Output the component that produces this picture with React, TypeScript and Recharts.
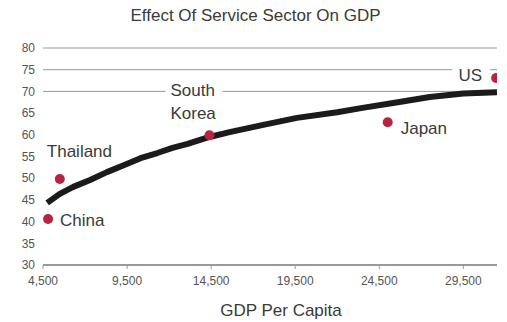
import {
  ComposedChart,
  Line,
  Scatter,
  XAxis,
  YAxis,
  ReferenceLine,
} from "recharts";

const countries = ["China", "Thailand", "South Korea", "Japan", "US"];
const countryGdp = [4800, 5500, 14400, 25000, 31450];
const countryShare = [40.6, 49.8, 59.9, 62.9, 73.1];

const trendGdp = [
  4750, 5500, 6300, 7300, 8300, 9300, 10300, 11300, 12200, 13100, 14400,
  15600, 17600, 19600, 22000, 23500, 25600, 27500, 29500, 31500,
];
const trendShare = [
  44.3, 46.4, 48.0, 49.6, 51.4, 53.0, 54.6, 55.8, 57.0, 57.9, 59.5, 60.6,
  62.3, 63.9, 65.2, 66.2, 67.5, 68.7, 69.5, 69.8,
];

const xTicks = [4500, 9500, 14500, 19500, 24500, 29500];
const yTicks = [30, 35, 40, 45, 50, 55, 60, 65, 70, 75, 80];
const gridValues = [70, 75, 80];

const pointData = countries.map((name, i) => ({
  name,
  gdp: countryGdp[i],
  share: countryShare[i],
}));
const trendData = trendGdp.map((gdp, i) => ({ gdp, trend: trendShare[i] }));

const FONT = "'Liberation Sans', Arial, sans-serif";
const TEXT = "#3a3a3a";
const DOT = "#b8233f";

// label offsets from the dot, in px
const labelPlacement: Record<
  string,
  { dx: number; dy: number; anchor: "start" | "end"; wrap?: boolean; bg?: [number, number] }
> = {
  China: { dx: 12, dy: 1, anchor: "start" },
  Thailand: { dx: -13, dy: -28, anchor: "start" },
  "South Korea": { dx: -39, dy: -45, anchor: "start", wrap: true, bg: [-44, 13] },
  Japan: { dx: 13, dy: 6, anchor: "start" },
  US: { dx: -14, dy: -3, anchor: "end", bg: [-44, -6] },
};

const CountryDot = (props: any) => {
  const { cx, cy, payload } = props;
  const p = labelPlacement[payload.name];
  const lines = p.wrap ? payload.name.split(" ") : [payload.name];
  return (
    <g>
      <circle cx={cx} cy={cy} r={5} fill={DOT} />
      {p.bg && (
        <rect
          x={cx + p.bg[0]}
          y={cy + p.dy - 8}
          width={p.bg[1] - p.bg[0]}
          height={16}
          fill="#fff"
        />
      )}
      {lines.map((t: string, i: number) => (
        <text
          key={t}
          x={cx + p.dx}
          y={cy + p.dy + i * 23 + 6}
          textAnchor={p.anchor}
          fontSize={17}
          fontFamily={FONT}
          fill={TEXT}
        >
          {t}
        </text>
      ))}
    </g>
  );
};

export default function App() {
  return (
    <div style={{ position: "absolute", left: 0, top: 0, width: 507, height: 322, background: "#fff" }}>
      <div
        style={{
          position: "absolute",
          top: 6,
          left: 2,
          width: 507,
          textAlign: "center",
          fontFamily: FONT,
          fontSize: 17,
          color: TEXT,
        }}
      >
        Effect Of Service Sector On GDP
      </div>
      <ComposedChart
        width={507}
        height={322}
        margin={{ top: 48, right: 10, bottom: 0, left: 0 }}
      >
        <XAxis
          dataKey="gdp"
          type="number"
          domain={[4500, 31500]}
          ticks={xTicks}
          allowDataOverflow
          tickFormatter={(v: number) => v.toLocaleString("en-US")}
          height={57}
          stroke="#999"
          axisLine={{ stroke: "#999", strokeWidth: 2 }}
          tickLine={{ stroke: "#999" }}
          tickSize={4}
          tickMargin={7}
          tick={{ fontSize: 12, fill: "#555", fontFamily: FONT }}
          label={{
            value: "GDP Per Capita",
            position: "insideBottom",
            offset: 6,
            dx: 11,
            fontSize: 17,
            fill: TEXT,
            fontFamily: FONT,
          }}
        />
        <YAxis
          type="number"
          domain={[30, 80]}
          ticks={yTicks}
          width={43}
          axisLine={false}
          tickLine={false}
          tickSize={0}
          tickMargin={8}
          tick={{ fontSize: 12, fill: "#555", fontFamily: FONT }}
        />
        {gridValues.map((v) => (
          <ReferenceLine key={v} y={v} stroke="#999" strokeWidth={1} />
        ))}
        <Scatter
          data={pointData}
          dataKey="share"
          shape={CountryDot}
          isAnimationActive={false}
        />
        <Line
          data={trendData}
          dataKey="trend"
          type="linear"
          stroke="#1b1b1b"
          strokeWidth={6}
          strokeLinejoin="round"
          dot={false}
          activeDot={false}
          isAnimationActive={false}
        />
      </ComposedChart>
    </div>
  );
}
